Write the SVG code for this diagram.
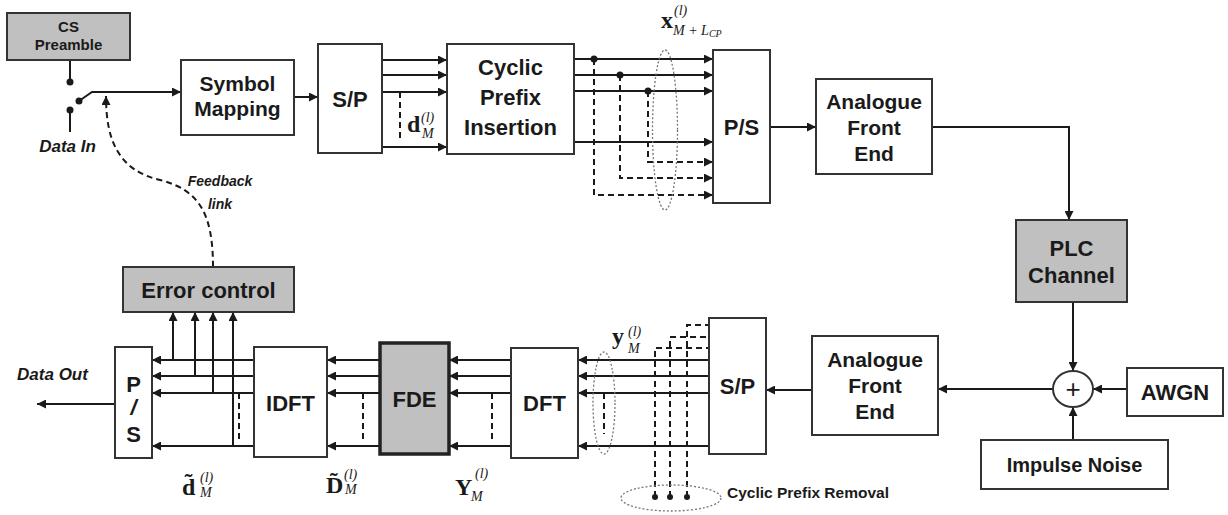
<svg xmlns="http://www.w3.org/2000/svg" width="1228" height="515" viewBox="0 0 1228 515">
<style>
.box{fill:#fff;stroke:#333;stroke-width:2}
.gray{fill:#c0c0c0}
.lbl{font-family:"Liberation Sans",Arial,sans-serif;font-weight:bold;font-size:21px;fill:#1a1a1a;text-anchor:middle}
.it{font-family:"Liberation Sans",Arial,sans-serif;font-weight:bold;font-style:italic;fill:#1a1a1a}
.ln{stroke:#1a1a1a;stroke-width:2;fill:none}
.dash{stroke-dasharray:6 4}
.arr{marker-end:url(#ah)}
.dots{fill:none;stroke:#777;stroke-width:1.3;stroke-dasharray:2 2}
.m{font-family:"Liberation Serif","Times New Roman",serif;fill:#1a1a1a}
.mb{font-weight:bold;font-size:24px}
.ms{font-style:italic;font-size:14px}
</style>
<defs>
<marker id="ah" viewBox="0 0 10 10" refX="10" refY="5" markerWidth="11" markerHeight="9" markerUnits="userSpaceOnUse" orient="auto"><path d="M0,0 L10,5 L0,10 z" fill="#1a1a1a"/></marker>
</defs>

<g id="connectors">
<line class="ln" x1="70" y1="60" x2="70" y2="82"/>
<circle cx="70" cy="82" r="3.5" fill="#1a1a1a"/>
<line class="ln" x1="70" y1="110" x2="70" y2="132"/>
<circle cx="70" cy="110" r="3.5" fill="#1a1a1a"/>
<circle cx="79" cy="101" r="3.5" fill="#1a1a1a"/>
<polyline class="ln arr" points="79,101 92,92 181,92"/>
<line class="ln arr" x1="294" y1="97" x2="318" y2="97"/>
<line class="ln arr" x1="382" y1="60" x2="447" y2="60"/>
<line class="ln arr" x1="382" y1="75" x2="447" y2="75"/>
<line class="ln arr" x1="382" y1="92" x2="447" y2="92"/>
<line class="ln arr" x1="382" y1="147" x2="447" y2="147"/>
<line class="ln dash" x1="400" y1="92" x2="400" y2="140"/>
<line class="ln arr" x1="574" y1="59" x2="713" y2="59"/>
<line class="ln arr" x1="574" y1="75" x2="713" y2="75"/>
<line class="ln arr" x1="574" y1="91" x2="713" y2="91"/>
<line class="ln arr" x1="574" y1="142" x2="713" y2="142"/>
<circle cx="594" cy="59" r="3.5" fill="#1a1a1a"/>
<circle cx="620" cy="75" r="3.5" fill="#1a1a1a"/>
<circle cx="648" cy="91" r="3.5" fill="#1a1a1a"/>
<polyline class="ln dash arr" points="594,59 594,195 713,195"/>
<polyline class="ln dash arr" points="620,75 620,178 713,178"/>
<polyline class="ln dash arr" points="648,91 648,162 713,162"/>
<ellipse class="dots" cx="665" cy="130" rx="12.5" ry="80"/>
<line class="ln arr" x1="770" y1="127" x2="816" y2="127"/>
<polyline class="ln arr" points="932,127 1069,127 1069,220"/>
<line class="ln arr" x1="1073" y1="302" x2="1073" y2="371"/>
<line class="ln arr" x1="1127" y1="389" x2="1093" y2="389"/>
<line class="ln arr" x1="1073" y1="440" x2="1073" y2="407"/>
<line class="ln arr" x1="1053" y1="389" x2="938" y2="389"/>
<line class="ln arr" x1="812" y1="390" x2="766" y2="390"/>
<line class="ln arr" x1="709" y1="360" x2="578" y2="360"/>
<line class="ln arr" x1="709" y1="376" x2="578" y2="376"/>
<line class="ln arr" x1="709" y1="393" x2="578" y2="393"/>
<line class="ln arr" x1="709" y1="446" x2="578" y2="446"/>
<ellipse class="dots" cx="604" cy="403" rx="11" ry="51"/>
<line class="ln dash" x1="604" y1="393" x2="604" y2="434"/>
<polyline class="ln dash" points="655,497 655,348 709,348"/>
<polyline class="ln dash" points="670,497 670,337 709,337"/>
<polyline class="ln dash" points="687,497 687,325 709,325"/>
<circle cx="655" cy="497" r="3" fill="#1a1a1a"/>
<circle cx="670" cy="497" r="3" fill="#1a1a1a"/>
<circle cx="687" cy="497" r="3" fill="#1a1a1a"/>
<ellipse class="dots" cx="671" cy="498" rx="50" ry="13"/>
<line class="ln arr" x1="511" y1="360" x2="449" y2="360"/>
<line class="ln arr" x1="511" y1="376" x2="449" y2="376"/>
<line class="ln arr" x1="511" y1="393" x2="449" y2="393"/>
<line class="ln arr" x1="511" y1="446" x2="449" y2="446"/>
<line class="ln dash" x1="492" y1="393" x2="492" y2="442"/>
<line class="ln arr" x1="380" y1="360" x2="327" y2="360"/>
<line class="ln arr" x1="380" y1="376" x2="327" y2="376"/>
<line class="ln arr" x1="380" y1="393" x2="327" y2="393"/>
<line class="ln arr" x1="380" y1="446" x2="327" y2="446"/>
<line class="ln dash" x1="363" y1="393" x2="363" y2="442"/>
<line class="ln arr" x1="254" y1="360" x2="152" y2="360"/>
<line class="ln arr" x1="254" y1="376" x2="152" y2="376"/>
<line class="ln arr" x1="254" y1="393" x2="152" y2="393"/>
<line class="ln arr" x1="254" y1="446" x2="152" y2="446"/>
<line class="ln dash" x1="239" y1="393" x2="239" y2="442"/>
<line class="ln arr" x1="173" y1="360" x2="173" y2="312"/>
<line class="ln arr" x1="195" y1="376" x2="195" y2="312"/>
<line class="ln arr" x1="213" y1="393" x2="213" y2="312"/>
<line class="ln arr" x1="233" y1="446" x2="233" y2="312"/>
<line class="ln arr" x1="115" y1="404" x2="37" y2="404"/>
<path class="ln dash arr" d="M213,267 C213,215 200,190 160,180 C118,170 106,140 106,96"/>
</g>

<g id="cs-preamble"><rect class="box gray" x="7" y="13" width="123" height="47"/>
<text class="lbl" x="68.5" y="32" style="font-size:15px">CS</text><text class="lbl" x="68.5" y="50" style="font-size:15px">Preamble</text></g>
<g id="data-in"><text class="it" x="67.5" y="152" font-size="17" text-anchor="middle">Data In</text></g>
<g id="symbol-mapping"><rect class="box" x="181" y="60" width="113" height="75"/>
<text class="lbl" x="237.5" y="91">Symbol</text><text class="lbl" x="237.5" y="116">Mapping</text></g>
<g id="sp-top"><rect class="box" x="318" y="44" width="64" height="109"/><text class="lbl" x="350" y="107" style="font-size:22px">S/P</text></g>
<g id="d-label" class="m"><text class="mb" x="407" y="132">d</text><text class="ms" x="421" y="122" font-size="15">(l)</text><text class="ms" x="422" y="138" font-size="13">M</text></g>
<g id="cp-insertion"><rect class="box" x="447" y="44" width="127" height="110"/>
<text class="lbl" x="510.5" y="75" style="font-size:22px">Cyclic</text><text class="lbl" x="510.5" y="105" style="font-size:22px">Prefix</text><text class="lbl" x="510.5" y="135" style="font-size:22px">Insertion</text></g>
<g id="x-label" class="m"><text class="mb" x="661" y="28">x</text><text class="ms" x="674" y="15" font-size="15">(l)</text><text class="ms" x="673" y="35">M + L<tspan font-size="10" dy="2">CP</tspan></text></g>
<g id="ps-top"><rect class="box" x="713" y="50" width="57" height="153"/><text class="lbl" x="741.5" y="135" style="font-size:22px">P/S</text></g>
<g id="afe-top"><rect class="box" x="816" y="79" width="116" height="95"/>
<text class="lbl" x="874" y="109">Analogue</text><text class="lbl" x="874" y="135">Front</text><text class="lbl" x="874" y="161">End</text></g>
<g id="plc-channel"><rect class="box gray" x="1016" y="220" width="111" height="82"/>
<text class="lbl" x="1071.5" y="256" style="font-size:22px">PLC</text><text class="lbl" x="1071.5" y="283" style="font-size:22px">Channel</text></g>
<g id="adder"><ellipse class="box" cx="1073" cy="389" rx="20" ry="18"/><text class="lbl" x="1073" y="398" style="font-size:26px;font-weight:normal">+</text></g>
<g id="awgn"><rect class="box" x="1127" y="368" width="96" height="48"/><text class="lbl" x="1175" y="400" style="font-size:22px">AWGN</text></g>
<g id="impulse-noise"><rect class="box" x="981" y="440" width="187" height="49"/><text class="lbl" x="1074.5" y="472" style="font-size:20px">Impulse Noise</text></g>
<g id="afe-bottom"><rect class="box" x="812" y="336" width="126" height="99"/>
<text class="lbl" x="875" y="367">Analogue</text><text class="lbl" x="875" y="393">Front</text><text class="lbl" x="875" y="419">End</text></g>
<g id="sp-bottom"><rect class="box" x="709" y="318" width="57" height="136"/><text class="lbl" x="737.5" y="394" style="font-size:22px">S/P</text></g>
<g id="y-label" class="m"><text class="mb" x="612" y="344">y</text><text class="ms" x="628" y="336" font-size="15">(l)</text><text class="ms" x="628" y="353" font-size="13">M</text></g>
<g id="cp-removal"><text x="727" y="498" style="font-family:'Liberation Sans',Arial,sans-serif;font-weight:bold;font-size:15.5px;fill:#1a1a1a">Cyclic Prefix Removal</text></g>
<g id="dft"><rect class="box" x="511" y="348" width="67" height="110"/><text class="lbl" x="544.5" y="411" style="font-size:22px">DFT</text></g>
<g id="Y-label" class="m"><text class="mb" x="455" y="495">Y</text><text class="ms" x="475" y="478" font-size="15">(l)</text><text class="ms" x="471" y="501" font-size="13">M</text></g>
<g id="fde"><rect x="380" y="343" width="69" height="111" fill="#c0c0c0" stroke="#222" stroke-width="3.5"/><text class="lbl" x="414.5" y="407" style="font-size:22px">FDE</text></g>
<g id="D-label" class="m"><text class="mb" x="326" y="493">D&#x303;</text><text class="ms" x="344" y="479" font-size="15">(l)</text><text class="ms" x="345" y="494" font-size="13">M</text></g>
<g id="idft"><rect class="box" x="254" y="347" width="73" height="110"/><text class="lbl" x="290.5" y="411" style="font-size:22px">IDFT</text></g>
<g id="dtilde-label" class="m"><text class="mb" x="182" y="495">d&#x303;</text><text class="ms" x="200" y="482" font-size="15">(l)</text><text class="ms" x="200" y="497" font-size="13">M</text></g>
<g id="ps-bottom"><rect class="box" x="115" y="347" width="37" height="111"/>
<text class="lbl" x="133.5" y="392" style="font-size:22px">P</text><text class="lbl" x="133.5" y="415" style="font-size:22px;font-style:italic">/</text><text class="lbl" x="133.5" y="442" style="font-size:22px">S</text></g>
<g id="data-out"><text class="it" x="52.5" y="380" font-size="17" text-anchor="middle">Data Out</text></g>
<g id="error-control"><rect class="box gray" x="123" y="267" width="171" height="45"/><text class="lbl" x="208.5" y="298" style="font-size:22px">Error control</text></g>
<g id="feedback-label"><text class="it" x="220" y="186" font-size="14" text-anchor="middle">Feedback</text><text class="it" x="220" y="209" font-size="14" text-anchor="middle">link</text></g>
</svg>
